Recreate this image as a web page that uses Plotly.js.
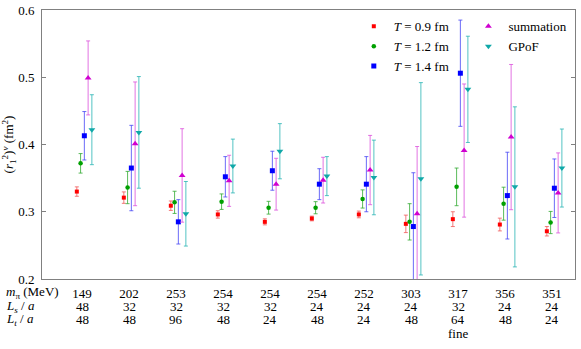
<!DOCTYPE html>
<html>
<head>
<meta charset="utf-8">
<script src="https://cdn.plot.ly/plotly-3.0.1.min.js"></script>
<style>body{margin:0;background:#fff}</style>
</head>
<body>
<div id="plot" style="width:581px;height:349px"></div>
<script>
// ensemble labels under each group
var mpi = [149, 202, 253, 254, 254, 254, 252, 303, 317, 356, 351];
var Ls = [48, 32, 32, 32, 32, 24, 24, 24, 32, 24, 24];
var Lt = [48, 48, 96, 48, 24, 48, 24, 48, 64, 48, 24];
var note = ['', '', '', '', '', '', '', '', 'fine', '', ''];

// (r1^2)^v in fm^2 with errors
var t09 = [0.330, 0.321, 0.309, 0.296, 0.285, 0.290, 0.296, 0.282, 0.289, 0.281, 0.271];
var t09Err = [0.007, 0.0085, 0.007, 0.0055, 0.0045, 0.0035, 0.005, 0.013, 0.011, 0.0095, 0.007];
var t12 = [0.372, 0.336, 0.314, 0.315, 0.306, 0.306, 0.319, 0.285, 0.337, 0.312, 0.284];
var t12Err = [0.0145, 0.024, 0.0165, 0.0115, 0.0095, 0.009, 0.0135, 0.027, 0.028, 0.0245, 0.0165];
var t14 = [0.413, 0.365, 0.285, 0.352, 0.361, 0.341, 0.341, 0.278, 0.506, 0.324, 0.335];
var t14Err = [0.036, 0.0635, 0.033, 0.030, 0.029, 0.023, 0.041, 0.08, 0.079, 0.0645, 0.0435];
var summ = [0.499, 0.401, 0.354, 0.346, 0.341, 0.347, 0.362, 0.297, 0.391, 0.411, 0.328];
var summErr = [0.055, 0.092, 0.0695, 0.038, 0.0385, 0.034, 0.0515, 0.1, 0.099, 0.108, 0.0595];
var gpof = [0.422, 0.418, 0.297, 0.368, 0.390, 0.353, 0.351, 0.349, 0.482, 0.337, 0.365];
var gpofErr = [0.052, 0.083, 0.048, 0.040, 0.041, 0.029, 0.0555, 0.143, 0.079, 0.119, 0.058];

var pos = mpi.map((m, i) => i + 1);
var font = 'Liberation Serif';

function series(y, err, off, name, col, errCol, sym, size, leg) {
  return {
    x: pos.map(p => p + off),
    y: y,
    type: 'scatter',
    mode: 'markers',
    name: name,
    legend: leg,
    marker: { color: col, symbol: sym, size: size },
    error_y: { type: 'data', array: err, visible: true, color: errCol, thickness: 1, width: 2 }
  };
}

var data = [
  series(t09, t09Err, -0.11, '<i>T</i> = 0.9 fm', '#ff0000', 'rgba(240,90,90,0.8)', 'square', 4, 'legend'),
  series(t12, t12Err, -0.03, '<i>T</i> = 1.2 fm', '#00a000', 'rgba(50,170,50,0.8)', 'circle', 4.5, 'legend'),
  series(t14, t14Err, 0.05, '<i>T</i> = 1.4 fm', '#0000ff', 'rgba(70,70,245,0.8)', 'square', 5, 'legend'),
  series(summ, summErr, 0.13, 'summation', '#d000d0', 'rgba(220,80,220,0.8)', 'triangle-up', 6, 'legend2'),
  series(gpof, gpofErr, 0.21, 'GPoF', '#10a8a8', 'rgba(40,180,180,0.8)', 'triangle-down', 6, 'legend2')
];

var annotations = [];
var rows = ['<i>m</i><sub>π</sub> (MeV)', '<i>L<sub>s</sub></i> / <i>a</i>', '<i>L<sub>t</sub></i> / <i>a</i>'];
rows.forEach((r, k) => {
  annotations.push({ xref: 'paper', yref: 'paper', x: 0, y: 0, xanchor: 'left', yanchor: 'middle',
    xshift: -38, yshift: -13.5 - 13.7 * k, text: r, showarrow: false, font: { family: font, size: 13 } });
});
[Ls, Lt, note].forEach((arr, k) => {
  arr.forEach((v, i) => {
    if (v === '') return;
    annotations.push({ xref: 'x', yref: 'paper', x: pos[i], y: 0, xanchor: 'center', yanchor: 'middle',
      yshift: -27.2 - 13.7 * k, text: String(v), showarrow: false, font: { family: font, size: 13 } });
  });
});

var layout = {
  width: 581,
  height: 349,
  margin: { l: 42, r: 6, t: 10, b: 70 },
  paper_bgcolor: '#fff',
  plot_bgcolor: '#fff',
  font: { family: font, size: 13, color: '#000' },
  showlegend: true,
  legend: { x: 0.585, y: 0.995, xanchor: 'left', yanchor: 'top', bgcolor: 'rgba(0,0,0,0)',
    tracegroupgap: 0, font: { family: font, size: 13 } },
  legend2: { x: 0.80, y: 0.995, xanchor: 'left', yanchor: 'top', bgcolor: 'rgba(0,0,0,0)',
    tracegroupgap: 0, font: { family: font, size: 13 } },
  xaxis: {
    range: [0.149, 11.489],
    tickmode: 'array',
    tickvals: pos,
    ticktext: mpi.map(String),
    ticks: '',
    tickfont: { family: font, size: 13 },
    showgrid: false,
    zeroline: false,
    showline: true,
    mirror: true,
    linecolor: '#808080',
    linewidth: 1,
    ticklabelstandoff: 2
  },
  yaxis: {
    range: [0.2, 0.6],
    tickvals: [0.2, 0.3, 0.4, 0.5, 0.6],
    ticktext: ['0.2', '0.3', '0.4', '0.5', '0.6'],
    tickfont: { family: font, size: 13 },
    ticks: 'inside',
    ticklen: 4,
    tickcolor: '#808080',
    showgrid: false,
    zeroline: false,
    showline: true,
    mirror: 'ticks',
    linecolor: '#808080',
    linewidth: 1,
    ticklabelstandoff: 4,
    title: { text: '(<i>r</i><sub>1</sub><sup>2</sup>)<sup><i>v</i></sup> (fm<sup>2</sup>)', standoff: 4, font: { family: font, size: 13 } }
  },
  annotations: annotations
};

Plotly.newPlot('plot', data, layout, { displayModeBar: false, staticPlot: true });
</script>
</body>
</html>
